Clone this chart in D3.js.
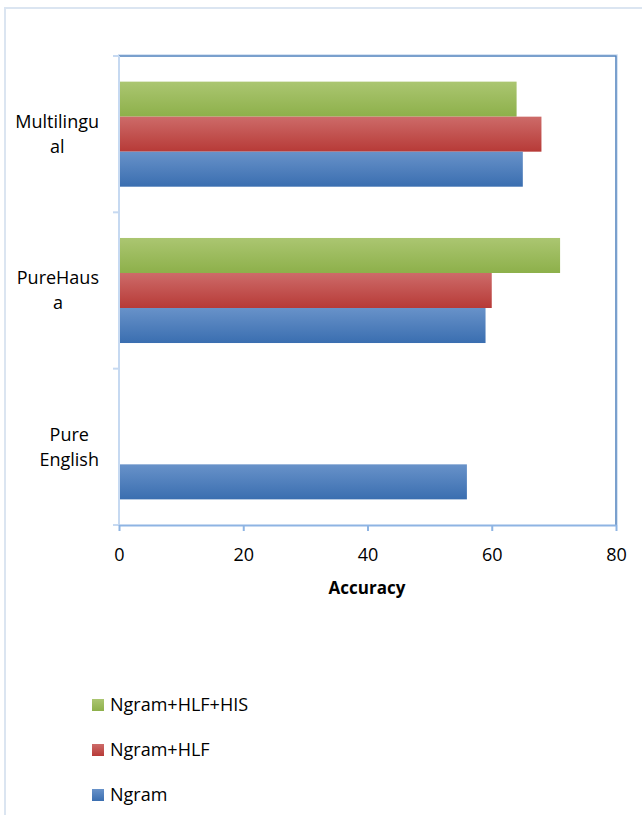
<!DOCTYPE html>
<html>
<head>
<meta charset="utf-8">
<script src="https://cdn.jsdelivr.net/npm/d3@7"></script>
<style>
  html, body { margin: 0; padding: 0; background: #fff; }
  svg { display: block; font-family: "Open Sans", "Noto Sans", sans-serif; }
</style>
</head>
<body>
<script>
// Category labels (top to bottom) and their wrapped lines
const categories = ["Multilingual", "PureHausa", "Pure English"];
const categoryLines = [["Multilingu", "al"], ["PureHaus", "a"], ["Pure", "English"]];

// Series drawn inside each category, top to bottom
const seriesNames = ["Ngram+HLF+HIS", "Ngram+HLF", "Ngram"];
const hlfHisValues = [64, 71, 0];
const hlfValues = [68, 60, 0];
const ngramValues = [65, 59, 56];
const seriesValues = [hlfHisValues, hlfValues, ngramValues];

const xTicks = [0, 20, 40, 60, 80];
const xTitle = "Accuracy";

const W = 642, H = 815;
const plot = { left: 119, right: 616, top: 56, bottom: 525 };
const FONT = 18;

const colors = {
  "Ngram+HLF+HIS": ["#abc671", "#8db04a"],
  "Ngram+HLF": ["#cd6b69", "#b73a37"],
  "Ngram": ["#6892c9", "#3a6eb0"]
};

const svg = d3.select("body").append("svg").attr("width", W).attr("height", H);

// Gradients for bar fills
const defs = svg.append("defs");
seriesNames.forEach((s, i) => {
  const g = defs.append("linearGradient").attr("id", "grad" + i)
    .attr("x1", 0).attr("y1", 0).attr("x2", 0).attr("y2", 1);
  g.append("stop").attr("offset", "0%").attr("stop-color", colors[s][0]);
  g.append("stop").attr("offset", "100%").attr("stop-color", colors[s][1]);
});

// Outer chart frame (open on the right and bottom)
svg.append("path")
  .attr("d", `M5,${H} V8 H${W}`)
  .attr("fill", "none").attr("stroke", "#dbe5f1").attr("stroke-width", 2);

const x = d3.scaleLinear().domain([0, 80]).range([plot.left, plot.right]);
const y = d3.scaleBand().domain(categories).range([plot.top, plot.bottom])
  .paddingInner(0.328).paddingOuter(0.164);
const ySub = d3.scaleBand().domain(seriesNames).range([0, y.bandwidth()]);

// Bars
categories.forEach((c, ci) => {
  seriesNames.forEach((s, si) => {
    const v = seriesValues[si][ci];
    if (v <= 0) return;
    svg.append("rect")
      .attr("x", x(0))
      .attr("y", y(c) + ySub(s))
      .attr("width", x(v) - x(0))
      .attr("height", ySub.bandwidth())
      .attr("fill", `url(#grad${si})`);
  });
});

// Plot frame: top and right edges
svg.append("path")
  .attr("d", `M${plot.left - 1},${plot.top - 1.5} H${plot.right + 1.5} V${plot.bottom}`)
  .attr("fill", "none").attr("stroke", "#d6e3f3").attr("stroke-width", 1);
svg.append("path")
  .attr("d", `M${plot.left},${plot.top} H${plot.right} V${plot.bottom}`)
  .attr("fill", "none").attr("stroke", "#4f81bd").attr("stroke-width", 1.5);

// Left (category) axis
const step = y.step();
const catTicks = d3.range(categories.length + 1).map(i => plot.top + i * step);
svg.append("line")
  .attr("x1", plot.left).attr("x2", plot.left)
  .attr("y1", plot.top).attr("y2", plot.bottom)
  .attr("stroke", "#c6d9f1").attr("stroke-width", 2);
svg.selectAll(".ctick").data(catTicks).enter().append("line")
  .attr("x1", plot.left - 6).attr("x2", plot.left)
  .attr("y1", d => d).attr("y2", d => d)
  .attr("stroke", "#c6d9f1").attr("stroke-width", 2);

// Category labels: each block right-aligned to the axis, lines centred within it
const labelRight = 99;
categories.forEach((c, ci) => {
  const lines = categoryLines[ci];
  const cy = y(c) + y.bandwidth() / 2;
  const lh = 25;
  const t = svg.append("text").attr("text-anchor", "middle")
    .attr("font-size", FONT).attr("fill", "#000");
  const spans = lines.map((ln, li) => t.append("tspan")
    .attr("y", cy + (li - (lines.length - 1) / 2) * lh)
    .attr("dy", "0.35em").text(ln));
  const maxW = d3.max(spans, s => s.node().getComputedTextLength());
  spans.forEach(s => s.attr("x", labelRight - maxW / 2));
});

// Bottom (value) axis
const xAxis = d3.axisBottom(x).tickValues(xTicks).tickSize(6).tickPadding(17).tickSizeOuter(0);
const gx = svg.append("g").attr("transform", `translate(0,${plot.bottom})`).call(xAxis);
gx.select(".domain").attr("stroke", "#8eb4e3").attr("stroke-width", 2);
gx.selectAll(".tick line").attr("stroke", "#8eb4e3").attr("stroke-width", 2);
gx.selectAll(".tick text").attr("font-size", FONT).attr("fill", "#000")
  .attr("font-family", "'Open Sans', sans-serif");

svg.append("text").attr("x", 367).attr("y", 588)
  .attr("dy", "0.35em").attr("text-anchor", "middle")
  .attr("font-size", 17).attr("font-weight", "bold").text(xTitle);

// Legend
const legendY = [705, 750, 795];
seriesNames.forEach((s, si) => {
  const g = svg.append("g").attr("transform", `translate(92,${legendY[si]})`);
  g.append("rect").attr("x", 0).attr("y", -6).attr("width", 12).attr("height", 12)
    .attr("fill", `url(#grad${si})`);
  g.append("text").attr("x", 18).attr("dy", "0.35em")
    .attr("font-size", FONT).attr("fill", "#000").text(s);
});
</script>
</body>
</html>
